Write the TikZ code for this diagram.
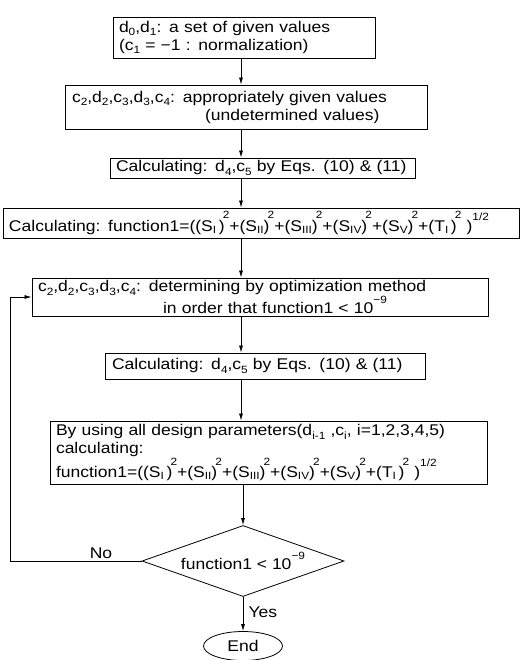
\documentclass[tikz,border=0pt]{standalone}
\usepackage{fontspec}
\setmainfont{Liberation Sans}[FakeStretch=1.13]
\usetikzlibrary{shapes.geometric,arrows.meta}

% small text for indices and exponents
\newcommand\idxfont{\fontsize{10.5}{10.5}\selectfont}
\newcommand\lo[1]{\raisebox{-0.45ex}{\idxfont #1}}
\newcommand\rn[1]{\raisebox{-0.25ex}{\idxfont #1}}
\newcommand\sqd{\kern-0.12em\raisebox{1.5ex}{\idxfont 2}}
\newcommand\hlf{\raisebox{1.35ex}{\idxfont 1/2}}
\newcommand\mnine{\raisebox{1.2ex}{\idxfont −9}}
\newcommand\fnone{function1=((S\rn{I}\,)\sqd+(S\rn{II})\sqd+(S\rn{III})\sqd+(S\rn{IV})\sqd+(S\rn{V})\sqd+(T\rn{I}\,)\sqd\ )\hlf}

\begin{document}
\begin{tikzpicture}[x=1pt,y=-1pt,
  every node/.style={font=\fontsize{15.5}{18}\selectfont},
  box/.style={draw, rectangle, line width=0.8pt, inner ysep=0pt, align=left},
  arr/.style={line width=0.7pt, -{Latex[length=7pt,width=4pt]}}]
\useasboundingbox (0,0) rectangle (521,660);

\coordinate (xl) at (241,0);
\coordinate (fb) at (10,0);

\node[box, minimum width=262pt, minimum height=41pt, text width=250pt, inner xsep=6pt]
  (b1) at (244,37.5)
  {\mbox{d\lo{0},d\lo{1}: a set of given values}\\\mbox{(c\lo{1} = −1 : normalization)}};

\node[box, minimum width=362pt, minimum height=44pt, text width=348pt, inner xsep=7pt]
  (b2) at (246,107)
  {\mbox{c\lo{2},d\lo{2},c\lo{3},d\lo{3},c\lo{4}: appropriately given values}\\\mbox{\hspace*{133pt}(undetermined values)}};

\node[box, minimum width=305pt, minimum height=20pt, text width=293pt, inner xsep=6pt]
  (b3) at (262.5,168)
  {\mbox{Calculating: d\lo{4},c\lo{5} by Eqs. (10) \& (11)}};

\node[box, minimum width=516pt, minimum height=30pt, text width=504pt, inner xsep=6pt]
  (b4) at (261,223)
  {\mbox{Calculating: \fnone}};

\node[box, minimum width=456pt, minimum height=38pt, text width=444pt, inner xsep=6pt]
  (b5) at (260,297)
  {\mbox{c\lo{2},d\lo{2},c\lo{3},d\lo{3},c\lo{4}: determining by optimization method}\\\mbox{\hspace*{125pt}in order that function1 < 10\mnine}};

\node[box, minimum width=320pt, minimum height=26pt, text width=306pt, inner xsep=7pt]
  (b6) at (265,366)
  {\mbox{Calculating: d\lo{4},c\lo{5} by Eqs. (10) \& (11)}};

\node[box, minimum width=437pt, minimum height=63pt, text width=425pt, inner xsep=6pt]
  (b7) at (268.5,452.5)
  {\mbox{By using all design parameters(d\lo{i-1} ,c\lo{i}, i=1,2,3,4,5)}\\\mbox{calculating:}\\\mbox{\fnone}};

\node[draw, diamond, line width=0.8pt, aspect=2.85, inner sep=0pt,
  minimum width=202pt, minimum height=71pt] (d) at (243,561)
  {function1 < 10\mnine};

\node[draw, ellipse, line width=0.8pt, minimum width=79pt, minimum height=29pt, inner sep=0pt]
  (end) at (243,646) {End};

\node (no) at (101,553) {No};
\node[anchor=west] (yes) at (245,612) {Yes};

\draw[arr] (b1.south -| xl) -- (b2.north -| xl);
\draw[arr] (b2.south -| xl) -- (b3.north -| xl);
\draw[arr] (b3.south -| xl) -- (b4.north -| xl);
\draw[arr] (b4.south -| xl) -- (b5.north -| xl);
\draw[arr] (b5.south -| xl) -- (b6.north -| xl);
\draw[arr] (b6.south -| xl) -- (b7.north -| xl);
\draw[arr] (b7.south -| d.north) -- (d.north);
\draw[arr] (d.south) -- (end.north);
\draw[arr] (d.west) -- (d.west -| fb) -- (b5.west -| fb) -- (b5.west);
\end{tikzpicture}
\end{document}
